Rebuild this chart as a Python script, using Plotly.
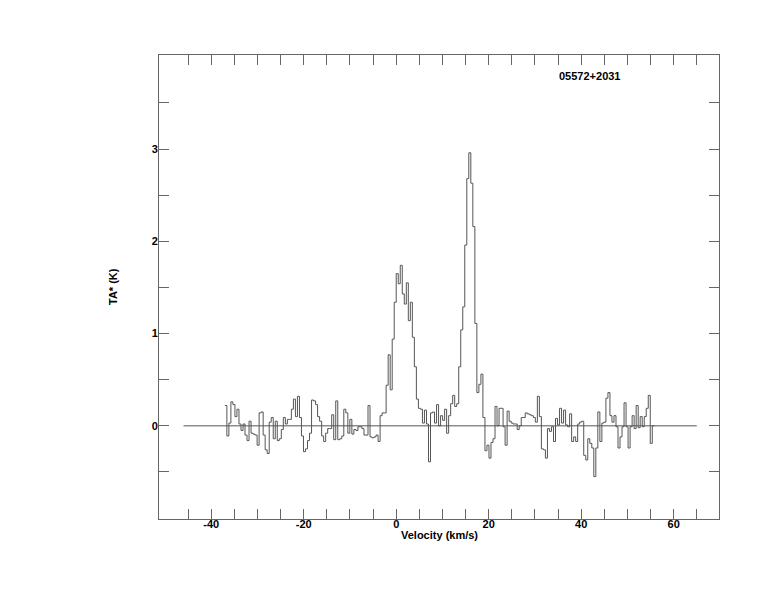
import numpy as np
import plotly.graph_objects as go

# ---- data ----
source_name = "05572+2031"
v_start = -37.06          # left edge of first channel (km/s)
channel_width = 0.436     # km/s
ta_values = [
    0.22, -0.11, 0.03, 0.26, 0.23, 0.10, 0.18, 0.02, -0.05, 0.02,
    -0.10, -0.16, 0.05, -0.08, -0.09, -0.10, -0.21, 0.14, 0.15, -0.10,
    -0.26, -0.30, 0.04, 0.09, -0.14, 0.05, -0.16, -0.14, -0.04, 0.09,
    0.02, 0.07, 0.07, 0.18, 0.29, 0.10, 0.32, 0.09, -0.11, -0.28,
    -0.25, -0.16, -0.08, 0.28, 0.27, 0.23, 0.10, 0.05, -0.11, -0.17,
    -0.08, -0.03, -0.03, 0.12, -0.15, 0.27, -0.15, -0.14, -0.11, 0.18,
    0.14, -0.08, 0.07, -0.09, -0.04, -0.05, -0.01, -0.01, -0.03, -0.10,
    -0.10, 0.22, -0.12, -0.13, -0.12, -0.10, -0.17, 0.11, 0.14, 0.14,
    0.44, 0.77, 0.39, 0.94, 1.34, 1.65, 1.54, 1.74, 1.43, 1.32,
    1.55, 1.14, 1.34, 0.96, 0.64, 0.29, 0.19, 0.18, 0.03, 0.17,
    0.02, -0.39, 0.14, 0.15, 0.03, 0.23, 0.00, 0.11, 0.06, 0.18,
    -0.08, 0.11, 0.24, 0.33, 0.21, 0.24, 0.64, 1.04, 1.29, 1.96,
    2.68, 2.96, 2.63, 2.16, 1.11, 0.36, 0.45, 0.56, 0.09, -0.27,
    -0.21, -0.35, -0.18, -0.14, 0.21, 0.00, 0.19, 0.19, -0.01, -0.21,
    0.16, 0.05, 0.03, 0.02, 0.02, -0.04, 0.00, 0.09, 0.09, 0.14,
    0.13, 0.12, 0.11, 0.09, 0.04, 0.32, 0.10, -0.25, -0.26, -0.35,
    -0.03, -0.06, -0.01, -0.17, 0.08, 0.01, 0.19, 0.03, 0.17, 0.01,
    -0.01, 0.13, -0.17, -0.12, -0.17, 0.02, 0.04, 0.05, -0.32, -0.37,
    -0.14, -0.19, -0.24, -0.55, -0.24, 0.15, -0.17, 0.03, 0.04, 0.30,
    0.36, 0.11, 0.04, 0.11, -0.01, -0.24, -0.12, -0.01, 0.25, -0.01,
    -0.24, -0.01, 0.11, -0.03, 0.22, -0.02, 0.10, -0.01, 0.10, 0.19,
    0.33, -0.19, 0.00,
]
baseline_x = [-46, 65]
baseline_y = [0, 0]

x_tickvals = list(range(-45, 70, 5))
x_ticklabels = ["-40", "-20", "0", "20", "40", "60"]
y_tickvals = [-0.5, 0, 0.5, 1, 1.5, 2, 2.5, 3, 3.5]
y_ticklabels = ["0", "1", "2", "3"]

# ---- build step coordinates (channel left edges + closing edge) ----
n = len(ta_values)
edges = v_start + channel_width * np.arange(n + 1)
step_y = list(ta_values) + [ta_values[-1]]

def xlab(v):
    return f"<b>{v}</b>" if str(v) in x_ticklabels else ""

def ylab(v):
    s = str(int(v)) if float(v).is_integer() else ""
    return f"<b>{s}</b>" if s in y_ticklabels else ""

FRAME = "#666666"
FONT = dict(family="Liberation Sans, Arial, sans-serif", size=11, color="black")

fig = go.Figure()
fig.add_trace(go.Scatter(x=baseline_x, y=baseline_y, mode="lines",
                         line=dict(color="#555555", width=1), hoverinfo="skip"))
fig.add_trace(go.Scatter(x=edges, y=step_y, mode="lines", line_shape="hv",
                         line=dict(color="#555555", width=1)))

PLOT_W, PLOT_H = 560, 464
fig.update_layout(
    width=766, height=604,
    margin=dict(l=151, r=55, t=47, b=93),
    paper_bgcolor="white", plot_bgcolor="white",
    showlegend=False,
    font=FONT,
    xaxis=dict(range=[-51.3, 69.8], showgrid=False, zeroline=False,
               showline=True, linecolor=FRAME, linewidth=1, mirror="ticks",
               ticks="inside", ticklen=10, tickcolor=FRAME, tickwidth=1,
               tickvals=x_tickvals, ticktext=[xlab(v) for v in x_tickvals],
               tickfont=FONT, ticklabelstandoff=-5),
    yaxis=dict(range=[-1.01, 4.02], showgrid=False, zeroline=False,
               showline=True, linecolor=FRAME, linewidth=1, mirror="ticks",
               ticks="inside", ticklen=10, tickcolor=FRAME, tickwidth=1,
               tickvals=y_tickvals, ticktext=[ylab(v) for v in y_tickvals],
               tickfont=FONT, ticklabelstandoff=-2),
    annotations=[
        dict(text="<b>Velocity (km/s)</b>", xref="paper", yref="paper",
             x=0.5, y=-16 / PLOT_H, xanchor="center", yanchor="middle",
             showarrow=False, font=FONT),
        dict(text="<b>TA* (K)</b>", xref="paper", yref="paper",
             x=-46 / PLOT_W, y=0.5, xanchor="center", yanchor="middle",
             textangle=-90, showarrow=False, font=FONT),
        dict(text=f"<b>{source_name}</b>", xref="paper", yref="paper",
             x=(589 - 159) / PLOT_W, y=(519 - 76) / PLOT_H, xanchor="center",
             yanchor="middle", showarrow=False, font=FONT),
    ],
)

fig.write_html("out.html")
